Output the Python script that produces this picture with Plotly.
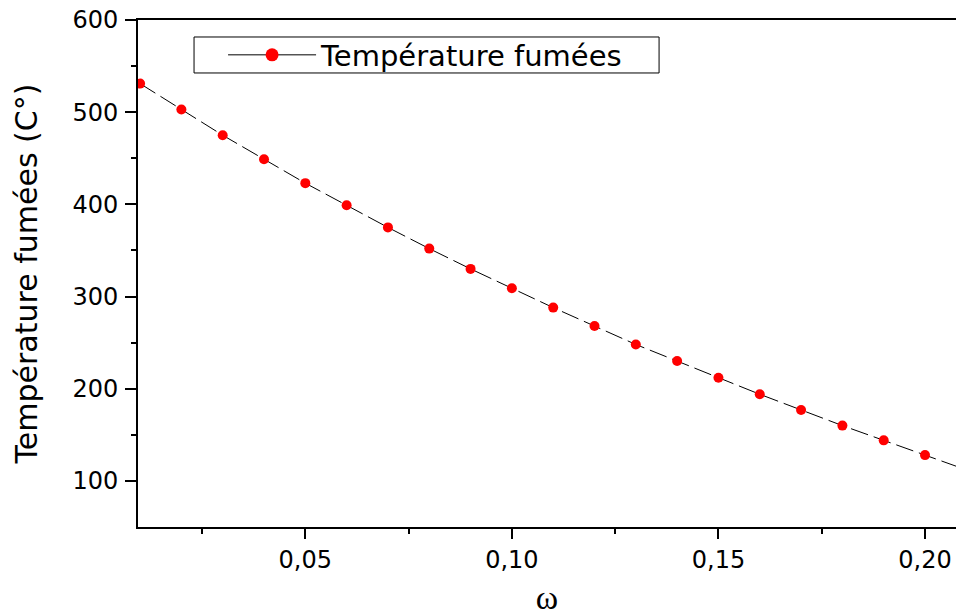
import plotly.graph_objects as go

omega = [0.01, 0.02, 0.03, 0.04, 0.05, 0.06, 0.07, 0.08, 0.09, 0.10,
         0.11, 0.12, 0.13, 0.14, 0.15, 0.16, 0.17, 0.18, 0.19, 0.20]
temp = [531, 503, 475, 449, 423, 399, 375, 352, 330, 309,
        288, 268, 248, 230, 212, 194, 177, 160, 144, 128]
line_x = omega + [0.21]
line_y = temp + [112]

x_ticks = [0.05, 0.10, 0.15, 0.20]
x_ticktext = ["0,05", "0,10", "0,15", "0,20"]
y_ticks = [100, 200, 300, 400, 500, 600]

fig = go.Figure()
fig.add_trace(go.Scatter(x=line_x, y=line_y, mode="lines",
                         line=dict(color="black", width=1, dash="18px,6px"),
                         showlegend=False, hoverinfo="skip"))
fig.add_trace(go.Scatter(x=omega, y=temp, mode="markers",
                         marker=dict(color="#ff0000", size=10),
                         showlegend=False))
fig.add_trace(go.Scatter(x=[None], y=[None], mode="lines+markers",
                         name="Température fumées",
                         line=dict(color="black", width=1),
                         marker=dict(color="#ff0000", size=13)))

font = "DejaVu Sans, Liberation Sans, Arial, sans-serif"

# legend frame (paper coords of the reference's box)
fig.add_shape(type="rect", xref="paper", yref="paper",
              x0=0.0685, x1=0.637, y0=0.8955, y1=0.9665,
              line=dict(color="black", width=1), fillcolor="rgba(0,0,0,0)", layer="above")

fig.update_layout(
    width=956, height=616,
    margin=dict(l=138, r=0, t=20, b=89),
    plot_bgcolor="white", paper_bgcolor="white",
    font=dict(family=font, color="black"),
    showlegend=True,
    legend=dict(x=0.104, y=0.931, xanchor="left", yanchor="middle",
                borderwidth=0, bgcolor="rgba(0,0,0,0)",
                font=dict(size=29, family=font), itemwidth=88,
                tracegroupgap=0),
    xaxis=dict(range=[0.0095, 0.2075], showgrid=False, zeroline=False,
               showline=True, linecolor="black", linewidth=2, mirror=True,
               tickmode="array", tickvals=x_ticks, ticktext=x_ticktext,
               ticks="outside", ticklen=10, tickwidth=2, tickcolor="black",
               tickfont=dict(size=24, family=font),
               minor=dict(tickvals=[0.025, 0.075, 0.125, 0.175], ticks="outside",
                          ticklen=5, tickwidth=2, tickcolor="black"),
               title=dict(text="ω", font=dict(size=34, family="Liberation Serif, Times New Roman, serif"),
                          standoff=16)),
    yaxis=dict(range=[50, 600], showgrid=False, zeroline=False,
               showline=True, linecolor="black", linewidth=2,
               tickmode="array", tickvals=y_ticks,
               ticks="outside", ticklen=11, tickwidth=2, tickcolor="black",
               ticklabelstandoff=2,
               tickfont=dict(size=24, family=font),
               minor=dict(tickvals=[150, 250, 350, 450, 550], ticks="outside",
                          ticklen=5, tickwidth=2, tickcolor="black"),
               title=dict(text="Température fumées (C°)", font=dict(size=30, family=font),
                          standoff=26)),
)

fig.write_html("out.html")
